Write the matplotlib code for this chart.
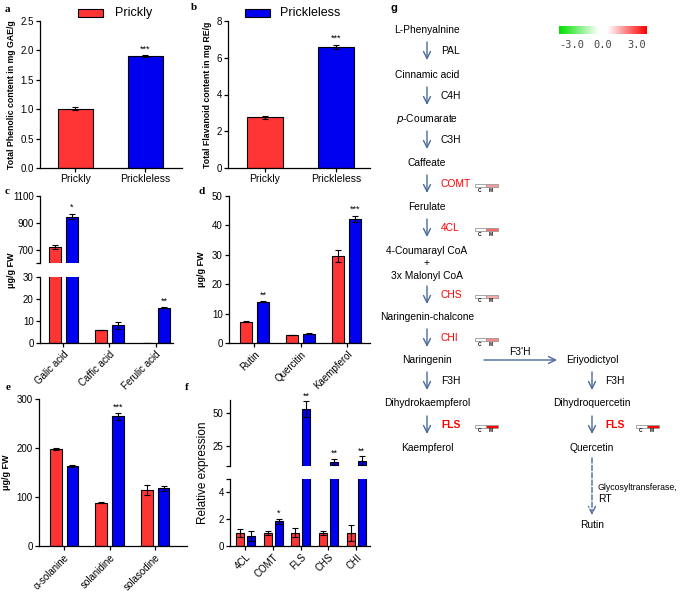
import matplotlib
matplotlib.use('Agg')
import matplotlib.pyplot as plt
import numpy as np
from matplotlib.colors import LinearSegmentedColormap, Normalize
from matplotlib.patches import Rectangle

plt.rcParams['font.family'] = ['Liberation Sans', 'DejaVu Sans']

W, H = 685, 594
RED = '#ff3535'
BLUE = '#0000f0'
ARROW = '#4a6a9a'

# ---- data ----
groups_ab = ['Prickly', 'Prickleless']
phenolic = [1.01, 1.90]
phenolic_err = [0.03, 0.02]
flavanoid = [2.75, 6.6]
flavanoid_err = [0.06, 0.12]

acids = ['Galic acid', 'Caffic acid', 'Ferulic acid']
acids_prickly = [720, 6, 0]
acids_prickly_err = [15, 0, 0]
acids_prickleless = [945, 8, 16]
acids_prickleless_err = [20, 1.6, 0.3]
acids_sig = ['*', '', '**']

flavs = ['Rutin', 'Quercitin', 'Kaempferol']
flavs_prickly = [7.3, 2.7, 29.5]
flavs_prickly_err = [0.2, 0.1, 2.0]
flavs_prickleless = [14.0, 3.2, 42.3]
flavs_prickleless_err = [0.2, 0.3, 1.0]
flavs_sig = ['**', '', '***']

alks = ['\u03b1-solanine', 'solanidine', 'solasodine']
alks_prickly = [198, 88, 115]
alks_prickly_err = [3, 1, 10]
alks_prickleless = [164, 265, 118]
alks_prickleless_err = [2, 7, 5]
alks_sig = ['', '***', '']

genes = ['4CL', 'COMT', 'FLS', 'CHS', 'CHI']
genes_prickly = [1, 1, 1, 1, 1]
genes_prickly_err = [0.3, 0.15, 0.35, 0.15, 0.6]
genes_prickleless = [0.75, 1.85, 53, 13, 14]
genes_prickleless_err = [0.35, 0.2, 6, 2.5, 3.5]
genes_sig = ['', '*', '**', '**', '**']

# heat values for the small C/M boxes in the pathway (M side)
heat_genes = ['COMT', '4CL', 'CHS', 'CHI', 'FLS']
heat_vals = [1.4, 1.9, 1.2, 1.6, 3.0]

fig = plt.figure(figsize=(6.85, 5.94), dpi=100)


def px_axes(x0, y0, x1, y1):
    return fig.add_axes([x0 / W, 1 - y1 / H, (x1 - x0) / W, (y1 - y0) / H])


def style(ax, bottom=True):
    for s in ['top', 'right']:
        ax.spines[s].set_visible(False)
    ax.spines['left'].set_linewidth(0.9)
    ax.spines['bottom'].set_linewidth(0.9)
    if not bottom:
        ax.spines['bottom'].set_visible(False)
    ax.tick_params(direction='out', length=3, width=0.9, labelsize=7, pad=1.5)


def draw_bars(ax, x, vals, errs, color, width):
    ax.bar(x, vals, width, color=color, edgecolor='black', linewidth=0.8, zorder=2)
    ax.errorbar(x, vals, yerr=errs, fmt='none', ecolor='black', elinewidth=0.8,
                capsize=2.3, capthick=0.8, zorder=3)


def stars(ax, x, vals, errs, sig, pad):
    for xi, v, e, s in zip(x, vals, errs, sig):
        if s:
            ax.text(xi, v + e + pad, s, ha='center', va='bottom', fontsize=6.5)


# ---- a ----
ax = px_axes(40, 21, 182, 168)
style(ax)
xa = np.arange(2)
draw_bars(ax, xa[:1], phenolic[:1], phenolic_err[:1], RED, 0.5)
draw_bars(ax, xa[1:], phenolic[1:], phenolic_err[1:], BLUE, 0.5)
stars(ax, xa, phenolic, phenolic_err, ['', '***'], 0.03)
ax.set_xlim(-0.5, 1.52)
ax.set_ylim(0, 2.5)
ax.set_yticks([0, 0.5, 1.0, 1.5, 2.0, 2.5])
ax.set_xticks(xa)
ax.set_xticklabels(groups_ab, fontsize=7.5)
ax.set_ylabel('Total Phenolic content in mg GAE/g', fontsize=6.3, fontweight='bold', labelpad=3)

# ---- b ----
ax = px_axes(228, 21, 370, 168)
style(ax)
draw_bars(ax, xa[:1], flavanoid[:1], flavanoid_err[:1], RED, 0.5)
draw_bars(ax, xa[1:], flavanoid[1:], flavanoid_err[1:], BLUE, 0.5)
stars(ax, xa, flavanoid, flavanoid_err, ['', '***'], 0.1)
ax.set_xlim(-0.52, 1.48)
ax.set_ylim(0, 8)
ax.set_yticks([0, 2, 4, 6, 8])
ax.set_xticks(xa)
ax.set_xticklabels(groups_ab, fontsize=7.5)
ax.set_ylabel('Total Flavanoid content in mg RE/g', fontsize=6.3, fontweight='bold', labelpad=3)

# ---- c (broken axis) ----
xg = np.arange(3)
off, bw = 0.185, 0.26
cu = px_axes(40, 196, 173, 263)
cl = px_axes(40, 277, 173, 343)
for a in (cu, cl):
    style(a, bottom=(a is cl))
    draw_bars(a, xg - off, acids_prickly, acids_prickly_err, RED, bw)
    draw_bars(a, xg + off, acids_prickleless, acids_prickleless_err, BLUE, bw)
    a.set_xlim(-0.51, 2.38)
cu.set_ylim(600, 1100)
cu.set_yticks([600, 700, 900, 1100])
cu.set_yticklabels(['', '700', '900', '1100'])
cu.set_xticks([])
cl.set_ylim(0, 30)
cl.set_yticks([0, 10, 20, 30])
cl.set_xticks(xg)
cl.set_xticklabels(acids, rotation=45, ha='right', rotation_mode='anchor', fontsize=7)
stars(cu, xg[:1] + off, acids_prickleless[:1], acids_prickleless_err[:1], acids_sig[:1], 15)
stars(cl, xg[2:] + off, acids_prickleless[2:], acids_prickleless_err[2:], acids_sig[2:], 0.8)
fig.text(11 / W, 1 - 270 / H, '\u03bcg/g FW', rotation=90, ha='center', va='center',
         fontsize=6.5, fontweight='bold')

# ---- d ----
ax = px_axes(229, 196, 370, 343)
style(ax)
draw_bars(ax, xg - off, flavs_prickly, flavs_prickly_err, RED, bw)
draw_bars(ax, xg + off, flavs_prickleless, flavs_prickleless_err, BLUE, bw)
stars(ax, xg + off, flavs_prickleless, flavs_prickleless_err, flavs_sig, 0.6)
ax.set_xlim(-0.55, 2.5)
ax.set_ylim(0, 50)
ax.set_yticks([0, 10, 20, 30, 40, 50])
ax.set_xticks(xg)
ax.set_xticklabels(flavs, rotation=45, ha='right', rotation_mode='anchor', fontsize=7)
ax.set_ylabel('\u03bcg/g FW', fontsize=6.5, fontweight='bold', labelpad=4)

# ---- e ----
ax = px_axes(39, 399, 187, 546)
style(ax)
draw_bars(ax, xg - off, alks_prickly, alks_prickly_err, RED, bw)
draw_bars(ax, xg + off, alks_prickleless, alks_prickleless_err, BLUE, bw)
stars(ax, xg + off, alks_prickleless, alks_prickleless_err, alks_sig, 3)
ax.set_xlim(-0.55, 2.7)
ax.set_ylim(0, 300)
ax.set_yticks([0, 100, 200, 300])
ax.set_xticks(xg)
ax.set_xticklabels(alks, rotation=45, ha='right', rotation_mode='anchor', fontsize=7)
ax.set_ylabel('\u03bcg/g FW', fontsize=6.5, fontweight='bold', labelpad=4)

# ---- f (broken axis) ----
xf = np.arange(5)
foff, fbw = 0.2, 0.28
fu = px_axes(230, 400, 370, 466)
fl = px_axes(230, 479, 370, 546)
for a in (fu, fl):
    style(a, bottom=(a is fl))
    draw_bars(a, xf - foff, genes_prickly, genes_prickly_err, RED, fbw)
    draw_bars(a, xf + foff, genes_prickleless, genes_prickleless_err, BLUE, fbw)
    a.set_xlim(-0.56, 4.5)
fu.set_ylim(10, 60)
fu.set_yticks([10, 25, 50])
fu.set_yticklabels(['', '25', '50'])
fu.set_xticks([])
fl.set_ylim(0, 5)
fl.set_yticks([0, 2, 4, 5])
fl.set_yticklabels(['0', '2', '4', ''])
fl.set_xticks(xf)
fl.set_xticklabels(genes, rotation=45, ha='right', rotation_mode='anchor', fontsize=7)
stars(fu, xf[2:] + foff, genes_prickleless[2:], genes_prickleless_err[2:], genes_sig[2:], 0.5)
stars(fl, xf[:2] + foff, genes_prickleless[:2], genes_prickleless_err[:2], genes_sig[:2], 0.05)
fig.text(203 / W, 1 - 473 / H, 'Relative expression', rotation=90, ha='center', va='center',
         fontsize=8.5)

# ---- overlay in pixel coordinates: labels, legend, pathway ----
ov = fig.add_axes([0, 0, 1, 1], zorder=10)
ov.patch.set_alpha(0)

cmap = LinearSegmentedColormap.from_list(
    'gwr', [(0, '#00e000'), (0.45, '#ffffff'), (0.55, '#ffffff'), (1, '#ff0000')])
norm = Normalize(-3, 3)
ov.imshow(np.linspace(-3, 3, 300)[None, :], extent=(559, 647, 34, 26), cmap=cmap,
          norm=norm, aspect='auto', zorder=1)
for x, s in [(572, '-3.0'), (603, '0.0'), (637, '3.0')]:
    ov.text(x, 45, s, ha='center', va='center', fontsize=7.5, family='DejaVu Sans Mono',
            color='#444444')

for x, y, s in [(5, 9, 'a'), (191, 8, 'b'), (5, 191, 'c'), (199, 191, 'd'),
                (6, 388, 'e'), (185, 388, 'f')]:
    ov.text(x, y, s, fontsize=8, fontweight='bold', family='Liberation Serif', va='center')
ov.text(391, 8, 'g', fontsize=8, fontweight='bold', va='center')

ov.add_patch(Rectangle((78, 9), 25, 8, fc=RED, ec='black', lw=0.8))
ov.text(115, 13, groups_ab[0], fontsize=9, va='center')
ov.add_patch(Rectangle((245, 9), 25, 8, fc=BLUE, ec='black', lw=0.8))
ov.text(280, 13, groups_ab[1], fontsize=9, va='center')


def down_arrow(x, y0, y1, dashed=False):
    ov.annotate('', xy=(x, y1), xytext=(x, y0),
                arrowprops=dict(arrowstyle='->,head_length=0.5,head_width=0.25', color=ARROW,
                                lw=1, linestyle='--' if dashed else '-',
                                shrinkA=0, shrinkB=0))


def heat(x, y, val):
    ov.add_patch(Rectangle((x, y - 1.5), 11.5, 3, fc='white', ec='#999999', lw=0.6))
    ov.add_patch(Rectangle((x + 11.5, y - 1.5), 11.5, 3, fc=cmap(norm(val)), ec='#999999', lw=0.6))
    ov.text(x + 5, y + 5, 'C', fontsize=3.5, fontweight='bold', ha='center', va='center')
    ov.text(x + 16, y + 5, 'M', fontsize=3.5, fontweight='bold', ha='center', va='center')


heat_map = dict(zip(heat_genes, heat_vals))
FS = 7.4
LX = 427
RX = 592
for y, s in [(30, 'L-Phenyalnine'), (75, 'Cinnamic acid'), (163, 'Caffeate'),
             (207, 'Ferulate'), (251, '4-Coumarayl CoA'), (263, '+'),
             (276, '3x Malonyl CoA'), (317, 'Naringenin-chalcone'), (360, 'Naringenin'),
             (403, 'Dihydrokaempferol'), (448, 'Kaempferol')]:
    ov.text(LX, y, s, fontsize=FS, ha='center', va='center')
ov.text(LX, 119, r'$\it{p}$-Coumarate', fontsize=FS, ha='center', va='center')
for y, s in [(360, 'Eriyodictyol'), (403, 'Dihydroquercetin'), (448, 'Quercetin'),
             (525, 'Rutin')]:
    ov.text(RX, y, s, fontsize=FS, ha='center', va='center')

steps = [(42, 'PAL'), (87, 'C4H'), (131, 'C3H'), (175, 'COMT'), (219, '4CL'),
         (286, 'CHS'), (329, 'CHI'), (372, 'F3H'), (416, 'FLS')]
for y0, g in steps:
    down_arrow(LX, y0, y0 + 18)
    if g in heat_map:
        ov.text(441, y0 + 9, g, fontsize=FS, color='red', va='center',
                fontweight='bold' if g == 'FLS' else 'normal')
        heat(475, y0 + 10, heat_map[g])
    else:
        ov.text(441, y0 + 9, g, fontsize=FS, va='center')
down_arrow(RX, 372, 390)
ov.text(605, 381, 'F3H', fontsize=FS, va='center')
down_arrow(RX, 416, 434)
ov.text(605, 425, 'FLS', fontsize=FS, color='red', fontweight='bold', va='center')
heat(636, 426, heat_map['FLS'])

ov.annotate('', xy=(557, 360), xytext=(484, 360),
            arrowprops=dict(arrowstyle='->,head_length=0.5,head_width=0.25', color=ARROW,
                            lw=1, shrinkA=0, shrinkB=0))
ov.text(520, 352, "F3'H", fontsize=FS, ha='center', va='center')

down_arrow(RX, 458, 515, dashed=True)
ov.text(598, 487, 'Glycosyltransferase,', fontsize=6.3, va='center')
ov.text(598, 499, 'RT', fontsize=FS, va='center')

ov.set_xlim(0, W)
ov.set_ylim(H, 0)
ov.axis('off')

fig.savefig('out.png', dpi=100)
